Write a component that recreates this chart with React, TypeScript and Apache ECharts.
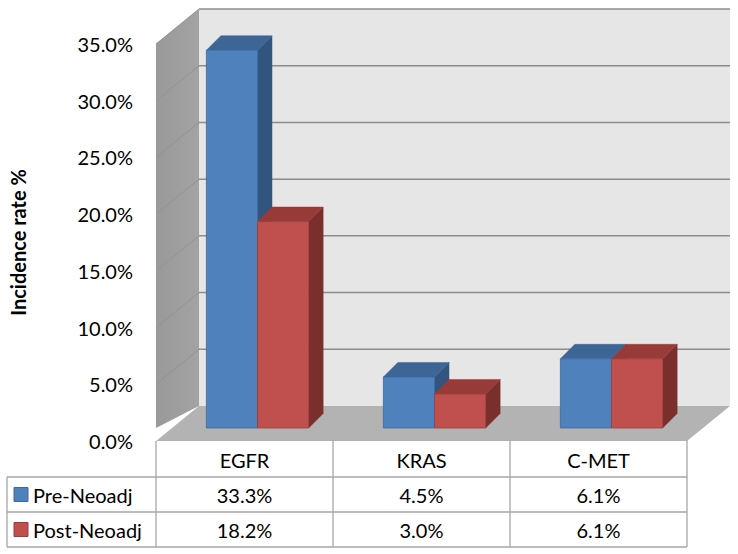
import React, { useEffect, useRef } from "react";
import * as echarts from "echarts";

const categories = ["EGFR", "KRAS", "C-MET"];
const seriesNames = ["Pre-Neoadj", "Post-Neoadj"];
const preNeoadj = [0.333, 0.045, 0.061];
const postNeoadj = [0.182, 0.03, 0.061];
const yTicks = [0, 0.05, 0.1, 0.15, 0.2, 0.25, 0.3, 0.35];
const yAxisTitle = "Incidence rate %";

const FONT = "Lato, 'Open Sans', sans-serif";
const DEPTH = [43, -35];
const BAR_SHIFT = [13, -13];
const BAR_DEPTH = [14.5, -14.5];
const BAR_FRAC = 0.289;
const TABLE_ROWS = [36, 35, 35];
const TABLE_LEFT = 7;
const LINE = "#a6a6a6";

const COLORS = [
  { front: "#4F81BD", top: "#3d6596", side: "#31557e", edge: "#3f6a9c" },
  { front: "#C0504D", top: "#983a38", side: "#7b2f2d", edge: "#9a3f3c" },
];

const pct = (v: number) => (v * 100).toFixed(1) + "%";

export default function App() {
  const ref = useRef<HTMLDivElement>(null);
  useEffect(() => {
    if (!ref.current) return;
    const chart = echarts.init(ref.current, undefined, { renderer: "svg" });
    const seriesData = [preNeoadj, postNeoadj];

    const wallsRender = (params: any, api: any) => {
      const c0 = api.coord([0, 0]);
      const cw = api.size([1, 0])[0];
      const cN = api.coord([categories.length - 1, 0]);
      const left = c0[0] - cw / 2;
      const right = cN[0] + cw / 2;
      const bottom = c0[1];
      const top = api.coord([0, yTicks[yTicks.length - 1]])[1];
      const [dx, dy] = DEPTH;
      const children: any[] = [];
      children.push({
        type: "polygon",
        shape: { points: [[left + dx, top + dy], [right + dx, top + dy], [right + dx, bottom + dy], [left + dx, bottom + dy]] },
        style: { fill: "#e6e6e6" },
      });
      children.push({
        type: "polygon",
        shape: { points: [[left, bottom], [left + dx, bottom + dy], [right + dx, bottom + dy], [right, bottom]] },
        style: { fill: "#b3b3b3" },
      });
      children.push({
        type: "polygon",
        shape: { points: [[left, top], [left + dx, top + dy], [left + dx, bottom + dy], [left, bottom - 13]] },
        style: {
          fill: new echarts.graphic.LinearGradient(0, 0, 1, 0, [
            { offset: 0, color: "#999999" },
            { offset: 1, color: "#a3a3a3" },
          ]),
        },
      });
      yTicks.forEach((t) => {
        if (t === 0) return;
        const y = api.coord([0, t])[1];
        children.push({
          type: "line",
          shape: { x1: left + dx, y1: y + dy, x2: right + dx, y2: y + dy },
          style: { stroke: "#8c8c8c", lineWidth: 1.5 },
        });
        children.push({
          type: "line",
          shape: { x1: left, y1: y, x2: left + dx, y2: y + dy },
          style: { stroke: "#929292", lineWidth: 1 },
        });
      });
      return { type: "group", children };
    };

    const makeBarRender = (si: number) => (params: any, api: any) => {
      const cat = api.value(0);
      const val = api.value(1);
      const base = api.coord([cat, 0]);
      const tp = api.coord([cat, val]);
      const w = api.size([1, 0])[0] * BAR_FRAC;
      const cx = base[0] + BAR_SHIFT[0];
      const x0 = si === 0 ? cx - w : cx;
      const x1 = x0 + w;
      const yb = base[1] + BAR_SHIFT[1];
      const yt = tp[1] + BAR_SHIFT[1];
      const [bx, by] = BAR_DEPTH;
      const col = COLORS[si];
      return {
        type: "group",
        children: [
          {
            type: "polygon",
            shape: { points: [[x1, yb], [x1 + bx, yb + by], [x1 + bx, yt + by], [x1, yt]] },
            style: { fill: col.side, stroke: col.side, lineWidth: 0.5 },
          },
          {
            type: "polygon",
            shape: { points: [[x0, yt], [x0 + bx, yt + by], [x1 + bx, yt + by], [x1, yt]] },
            style: { fill: col.top, stroke: col.top, lineWidth: 0.5 },
          },
          {
            type: "rect",
            shape: { x: x0, y: yt, width: w, height: yb - yt },
            style: { fill: col.front, stroke: col.edge, lineWidth: 0.8 },
          },
        ],
      };
    };

    const tableRender = (params: any, api: any) => {
      const i = api.value(0);
      const c = api.coord([i, 0]);
      const cw = api.size([1, 0])[0];
      const left = c[0] - cw / 2;
      const right = c[0] + cw / 2;
      const y0 = c[1];
      const rowY = [y0];
      TABLE_ROWS.forEach((h) => rowY.push(rowY[rowY.length - 1] + h));
      const children: any[] = [];
      const line = (x1: number, y1: number, x2: number, y2: number) =>
        children.push({ type: "line", shape: { x1, y1, x2, y2 }, style: { stroke: LINE, lineWidth: 1.3 } });
      const text = (s: string, x: number, y: number, align = "center") =>
        children.push({
          type: "text",
          style: { text: s, x, y, align, verticalAlign: "middle", fontSize: 20, fontFamily: FONT, fill: "#000" },
        });
      line(right, y0 - 1, right, rowY[3]);
      if (i === 0) line(left, y0, left, rowY[3]);
      for (let r = 1; r <= 3; r++) line(left, rowY[r], right, rowY[r]);
      text(categories[i], c[0], (rowY[0] + rowY[1]) / 2 + 1);
      text(pct(preNeoadj[i]), c[0], (rowY[1] + rowY[2]) / 2);
      text(pct(postNeoadj[i]), c[0], (rowY[2] + rowY[3]) / 2);
      if (i === 0) {
        line(TABLE_LEFT, rowY[1], left, rowY[1]);
        line(TABLE_LEFT, rowY[2], left, rowY[2]);
        line(TABLE_LEFT, rowY[3], left, rowY[3]);
        line(TABLE_LEFT, rowY[1], TABLE_LEFT, rowY[3]);
        seriesNames.forEach((n, k) => {
          const yc = (rowY[k + 1] + rowY[k + 2]) / 2;
          children.push({
            type: "rect",
            shape: { x: 14, y: yc - 7, width: 14, height: 14 },
            style: { fill: COLORS[k].front, stroke: COLORS[k].edge, lineWidth: 1 },
          });
          text(n, 33, yc, "left");
        });
      }
      return { type: "group", children };
    };

    chart.setOption({
      animation: false,
      backgroundColor: "#ffffff",
      grid: { left: 155, right: 51, top: 44, bottom: 113 },
      xAxis: {
        type: "category",
        data: categories,
        axisLine: { show: false },
        axisTick: { show: false },
        axisLabel: { show: false },
      },
      yAxis: {
        type: "value",
        min: 0,
        max: 0.35,
        interval: 0.05,
        name: yAxisTitle,
        nameLocation: "middle",
        nameRotate: 90,
        nameGap: 128,
        nameTextStyle: { fontSize: 20, fontWeight: "bold", fontFamily: FONT, color: "#000" },
        axisLine: { show: false },
        axisTick: { show: false },
        splitLine: { show: false },
        axisLabel: {
          formatter: (v: number) => pct(v),
          fontSize: 20,
          fontFamily: FONT,
          color: "#000",
          margin: 23,
        },
      },
      series: [
        { type: "custom", name: "walls", renderItem: wallsRender, data: [[0, 0]], z: 1, clip: false, silent: true },
        ...seriesData.map((arr, si) => ({
          type: "custom",
          name: seriesNames[si],
          renderItem: makeBarRender(si),
          data: arr.map((v, i) => [i, v]),
          z: 2 + si,
          clip: false,
        })),
        {
          type: "custom",
          name: "table",
          renderItem: tableRender,
          data: categories.map((_, i) => [i, 0]),
          z: 5,
          clip: false,
          silent: true,
        },
      ],
    });
    return () => chart.dispose();
  }, []);
  return <div ref={ref} style={{ position: "fixed", left: 0, top: 0, width: 738, height: 554 }} />;
}
